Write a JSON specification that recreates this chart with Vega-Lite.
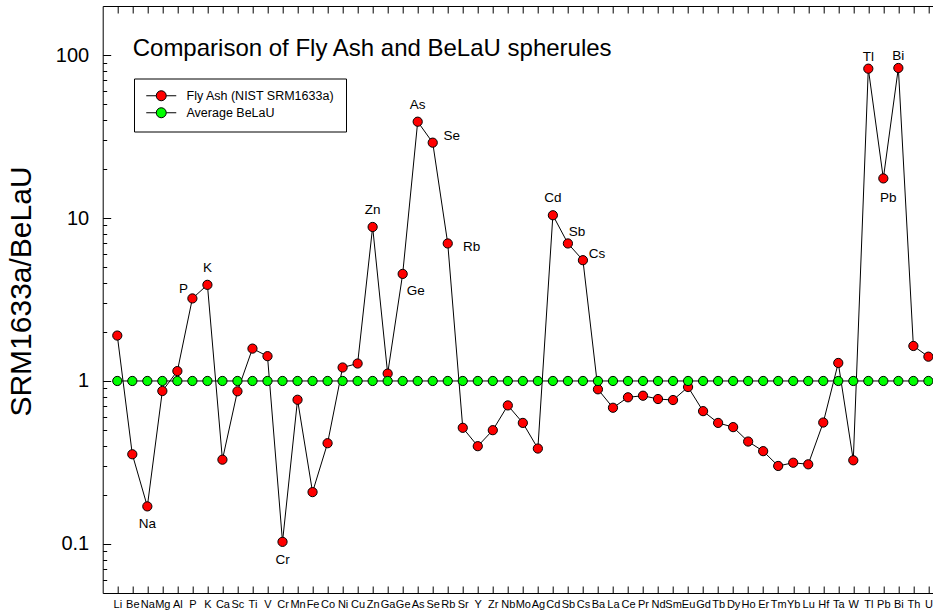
{
  "$schema": "https://vega.github.io/schema/vega-lite/v6.json",
  "autosize": {"type": "none"},
  "padding": {"left": 102.7, "top": 6, "right": 0, "bottom": 20},
  "width": 830.3,
  "height": 587,
  "background": "white",
  "config": {
    "font": "Liberation Sans",
    "view": {"stroke": null},
    "legend": {"title": null},
    "axis": {"grid": false, "tickColor": "black", "tickWidth": 1, "domainColor": "black", "domainWidth": 1, "labelColor": "black"}
  },
  "title": {
    "text": "Comparison of Fly Ash and BeLaU spherules",
    "anchor": "start",
    "frame": "group",
    "orient": "top",
    "offset": 0,
    "dx": 30,
    "dy": 74,
    "fontSize": 24,
    "fontWeight": "normal",
    "font": "Liberation Sans",
    "color": "black",
    "baseline": "alphabetic"
  },
  "resolve": {"axis": {"x": "independent", "y": "independent"}},
  "data": {
    "values": [
      {"el": "Li", "series": "Fly Ash (NIST SRM1633a)", "v": 1.90},
      {"el": "Be", "series": "Fly Ash (NIST SRM1633a)", "v": 0.355},
      {"el": "Na", "series": "Fly Ash (NIST SRM1633a)", "v": 0.170},
      {"el": "Mg", "series": "Fly Ash (NIST SRM1633a)", "v": 0.868},
      {"el": "Al", "series": "Fly Ash (NIST SRM1633a)", "v": 1.15},
      {"el": "P", "series": "Fly Ash (NIST SRM1633a)", "v": 3.21},
      {"el": "K", "series": "Fly Ash (NIST SRM1633a)", "v": 3.89},
      {"el": "Ca", "series": "Fly Ash (NIST SRM1633a)", "v": 0.329},
      {"el": "Sc", "series": "Fly Ash (NIST SRM1633a)", "v": 0.864},
      {"el": "Ti", "series": "Fly Ash (NIST SRM1633a)", "v": 1.58},
      {"el": "V", "series": "Fly Ash (NIST SRM1633a)", "v": 1.42},
      {"el": "Cr", "series": "Fly Ash (NIST SRM1633a)", "v": 0.103},
      {"el": "Mn", "series": "Fly Ash (NIST SRM1633a)", "v": 0.767},
      {"el": "Fe", "series": "Fly Ash (NIST SRM1633a)", "v": 0.208},
      {"el": "Co", "series": "Fly Ash (NIST SRM1633a)", "v": 0.415},
      {"el": "Ni", "series": "Fly Ash (NIST SRM1633a)", "v": 1.21},
      {"el": "Cu", "series": "Fly Ash (NIST SRM1633a)", "v": 1.28},
      {"el": "Zn", "series": "Fly Ash (NIST SRM1633a)", "v": 8.81},
      {"el": "Ga", "series": "Fly Ash (NIST SRM1633a)", "v": 1.11},
      {"el": "Ge", "series": "Fly Ash (NIST SRM1633a)", "v": 4.54},
      {"el": "As", "series": "Fly Ash (NIST SRM1633a)", "v": 39.0},
      {"el": "Se", "series": "Fly Ash (NIST SRM1633a)", "v": 29.0},
      {"el": "Rb", "series": "Fly Ash (NIST SRM1633a)", "v": 6.98},
      {"el": "Sr", "series": "Fly Ash (NIST SRM1633a)", "v": 0.516},
      {"el": "Y", "series": "Fly Ash (NIST SRM1633a)", "v": 0.398},
      {"el": "Zr", "series": "Fly Ash (NIST SRM1633a)", "v": 0.499},
      {"el": "Nb", "series": "Fly Ash (NIST SRM1633a)", "v": 0.708},
      {"el": "Mo", "series": "Fly Ash (NIST SRM1633a)", "v": 0.553},
      {"el": "Ag", "series": "Fly Ash (NIST SRM1633a)", "v": 0.385},
      {"el": "Cd", "series": "Fly Ash (NIST SRM1633a)", "v": 10.4},
      {"el": "Sb", "series": "Fly Ash (NIST SRM1633a)", "v": 6.98},
      {"el": "Cs", "series": "Fly Ash (NIST SRM1633a)", "v": 5.51},
      {"el": "Ba", "series": "Fly Ash (NIST SRM1633a)", "v": 0.889},
      {"el": "La", "series": "Fly Ash (NIST SRM1633a)", "v": 0.685},
      {"el": "Ce", "series": "Fly Ash (NIST SRM1633a)", "v": 0.794},
      {"el": "Pr", "series": "Fly Ash (NIST SRM1633a)", "v": 0.812},
      {"el": "Nd", "series": "Fly Ash (NIST SRM1633a)", "v": 0.775},
      {"el": "Sm", "series": "Fly Ash (NIST SRM1633a)", "v": 0.764},
      {"el": "Eu", "series": "Fly Ash (NIST SRM1633a)", "v": 0.918},
      {"el": "Gd", "series": "Fly Ash (NIST SRM1633a)", "v": 0.653},
      {"el": "Tb", "series": "Fly Ash (NIST SRM1633a)", "v": 0.553},
      {"el": "Dy", "series": "Fly Ash (NIST SRM1633a)", "v": 0.521},
      {"el": "Ho", "series": "Fly Ash (NIST SRM1633a)", "v": 0.425},
      {"el": "Er", "series": "Fly Ash (NIST SRM1633a)", "v": 0.371},
      {"el": "Tm", "series": "Fly Ash (NIST SRM1633a)", "v": 0.301},
      {"el": "Yb", "series": "Fly Ash (NIST SRM1633a)", "v": 0.315},
      {"el": "Lu", "series": "Fly Ash (NIST SRM1633a)", "v": 0.308},
      {"el": "Hf", "series": "Fly Ash (NIST SRM1633a)", "v": 0.556},
      {"el": "Ta", "series": "Fly Ash (NIST SRM1633a)", "v": 1.29},
      {"el": "W", "series": "Fly Ash (NIST SRM1633a)", "v": 0.326},
      {"el": "Tl", "series": "Fly Ash (NIST SRM1633a)", "v": 82.5},
      {"el": "Pb", "series": "Fly Ash (NIST SRM1633a)", "v": 17.5},
      {"el": "Bi", "series": "Fly Ash (NIST SRM1633a)", "v": 83.3},
      {"el": "Th", "series": "Fly Ash (NIST SRM1633a)", "v": 1.64},
      {"el": "U", "series": "Fly Ash (NIST SRM1633a)", "v": 1.41},
      {"el": "Li", "series": "Average BeLaU", "v": 1},
      {"el": "Be", "series": "Average BeLaU", "v": 1},
      {"el": "Na", "series": "Average BeLaU", "v": 1},
      {"el": "Mg", "series": "Average BeLaU", "v": 1},
      {"el": "Al", "series": "Average BeLaU", "v": 1},
      {"el": "P", "series": "Average BeLaU", "v": 1},
      {"el": "K", "series": "Average BeLaU", "v": 1},
      {"el": "Ca", "series": "Average BeLaU", "v": 1},
      {"el": "Sc", "series": "Average BeLaU", "v": 1},
      {"el": "Ti", "series": "Average BeLaU", "v": 1},
      {"el": "V", "series": "Average BeLaU", "v": 1},
      {"el": "Cr", "series": "Average BeLaU", "v": 1},
      {"el": "Mn", "series": "Average BeLaU", "v": 1},
      {"el": "Fe", "series": "Average BeLaU", "v": 1},
      {"el": "Co", "series": "Average BeLaU", "v": 1},
      {"el": "Ni", "series": "Average BeLaU", "v": 1},
      {"el": "Cu", "series": "Average BeLaU", "v": 1},
      {"el": "Zn", "series": "Average BeLaU", "v": 1},
      {"el": "Ga", "series": "Average BeLaU", "v": 1},
      {"el": "Ge", "series": "Average BeLaU", "v": 1},
      {"el": "As", "series": "Average BeLaU", "v": 1},
      {"el": "Se", "series": "Average BeLaU", "v": 1},
      {"el": "Rb", "series": "Average BeLaU", "v": 1},
      {"el": "Sr", "series": "Average BeLaU", "v": 1},
      {"el": "Y", "series": "Average BeLaU", "v": 1},
      {"el": "Zr", "series": "Average BeLaU", "v": 1},
      {"el": "Nb", "series": "Average BeLaU", "v": 1},
      {"el": "Mo", "series": "Average BeLaU", "v": 1},
      {"el": "Ag", "series": "Average BeLaU", "v": 1},
      {"el": "Cd", "series": "Average BeLaU", "v": 1},
      {"el": "Sb", "series": "Average BeLaU", "v": 1},
      {"el": "Cs", "series": "Average BeLaU", "v": 1},
      {"el": "Ba", "series": "Average BeLaU", "v": 1},
      {"el": "La", "series": "Average BeLaU", "v": 1},
      {"el": "Ce", "series": "Average BeLaU", "v": 1},
      {"el": "Pr", "series": "Average BeLaU", "v": 1},
      {"el": "Nd", "series": "Average BeLaU", "v": 1},
      {"el": "Sm", "series": "Average BeLaU", "v": 1},
      {"el": "Eu", "series": "Average BeLaU", "v": 1},
      {"el": "Gd", "series": "Average BeLaU", "v": 1},
      {"el": "Tb", "series": "Average BeLaU", "v": 1},
      {"el": "Dy", "series": "Average BeLaU", "v": 1},
      {"el": "Ho", "series": "Average BeLaU", "v": 1},
      {"el": "Er", "series": "Average BeLaU", "v": 1},
      {"el": "Tm", "series": "Average BeLaU", "v": 1},
      {"el": "Yb", "series": "Average BeLaU", "v": 1},
      {"el": "Lu", "series": "Average BeLaU", "v": 1},
      {"el": "Hf", "series": "Average BeLaU", "v": 1},
      {"el": "Ta", "series": "Average BeLaU", "v": 1},
      {"el": "W", "series": "Average BeLaU", "v": 1},
      {"el": "Tl", "series": "Average BeLaU", "v": 1},
      {"el": "Pb", "series": "Average BeLaU", "v": 1},
      {"el": "Bi", "series": "Average BeLaU", "v": 1},
      {"el": "Th", "series": "Average BeLaU", "v": 1},
      {"el": "U", "series": "Average BeLaU", "v": 1}
    ]
  },
  "encoding": {
    "x": {
      "field": "el",
      "type": "nominal",
      "sort": ["Li","Be","Na","Mg","Al","P","K","Ca","Sc","Ti","V","Cr","Mn","Fe","Co","Ni","Cu","Zn","Ga","Ge","As","Se","Rb","Sr","Y","Zr","Nb","Mo","Ag","Cd","Sb","Cs","Ba","La","Ce","Pr","Nd","Sm","Eu","Gd","Tb","Dy","Ho","Er","Tm","Yb","Lu","Hf","Ta","W","Tl","Pb","Bi","Th","U"],
      "scale": {"type": "point", "padding": 0.639, "align": 0.76},
      "axis": null
    },
    "y": {
      "field": "v",
      "type": "quantitative",
      "scale": {"type": "log", "domain": [0.05, 200], "nice": false},
      "axis": null
    }
  },
  "layer": [
    {
      "mark": {"type": "line", "color": "black", "strokeWidth": 1},
      "encoding": {
        "detail": {"field": "series"},
        "x": {
          "field": "el",
          "type": "nominal",
          "sort": ["Li","Be","Na","Mg","Al","P","K","Ca","Sc","Ti","V","Cr","Mn","Fe","Co","Ni","Cu","Zn","Ga","Ge","As","Se","Rb","Sr","Y","Zr","Nb","Mo","Ag","Cd","Sb","Cs","Ba","La","Ce","Pr","Nd","Sm","Eu","Gd","Tb","Dy","Ho","Er","Tm","Yb","Lu","Hf","Ta","W","Tl","Pb","Bi","Th","U"],
          "scale": {"type": "point", "padding": 0.639, "align": 0.76},
          "axis": {
            "title": null,
            "orient": "bottom",
            "domain": true,
            "ticks": false,
            "labelAngle": 0,
            "labelFontSize": 11,
            "labelPadding": 5,
            "labelOverlap": false,
            "labelBound": false
          }
        },
        "y": {
          "field": "v",
          "type": "quantitative",
          "scale": {"type": "log", "domain": [0.05, 200], "nice": false},
          "axis": {
            "orient": "left",
            "title": "SRM1633a/BeLaU",
            "titleFontSize": 30,
            "titleFontWeight": "normal",
            "titleColor": "black",
            "titlePadding": 19,
            "titleY": 285,
            "values": [0.1, 1, 10, 100],
            "labelExpr": "toString(datum.value)",
            "labelFontSize": 20,
            "labelPadding": 14,
            "labelOverlap": false,
            "labelBound": false,
            "labelFlush": false,
            "ticks": false,
            "domain": true
          }
        }
      }
    },
    {
      "mark": {"type": "point", "filled": true, "size": 85, "stroke": "black", "strokeWidth": 1, "opacity": 1},
      "encoding": {
        "x": {
          "field": "el",
          "type": "nominal",
          "sort": ["Li","Be","Na","Mg","Al","P","K","Ca","Sc","Ti","V","Cr","Mn","Fe","Co","Ni","Cu","Zn","Ga","Ge","As","Se","Rb","Sr","Y","Zr","Nb","Mo","Ag","Cd","Sb","Cs","Ba","La","Ce","Pr","Nd","Sm","Eu","Gd","Tb","Dy","Ho","Er","Tm","Yb","Lu","Hf","Ta","W","Tl","Pb","Bi","Th","U"],
          "scale": {"type": "point", "padding": 0.639, "align": 0.76},
          "axis": {
            "title": null,
            "orient": "top",
            "domain": true,
            "ticks": true,
            "tickSize": -7,
            "labels": false
          }
        },
        "y": {
          "field": "v",
          "type": "quantitative",
          "scale": {"type": "log", "domain": [0.05, 200], "nice": false},
          "axis": {
            "orient": "left",
            "title": null,
            "values": [0.1, 1, 10, 100],
            "labels": false,
            "domain": false,
            "ticks": true,
            "tickSize": -8
          }
        },
        "fill": {
          "field": "series",
          "type": "nominal",
          "sort": null,
          "scale": {"domain": ["Fly Ash (NIST SRM1633a)", "Average BeLaU"], "range": ["#ff0000", "#00ff00"]},
          "legend": {
            "orient": "none",
            "legendX": 31.3,
            "legendY": 72.5,
            "direction": "vertical",
            "strokeColor": "black",
            "fillColor": "white",
            "padding": 11,
            "symbolType": "M-1,0H1M3,0H5M1,0A1,1,0,1,1,3,0A1,1,0,1,1,1,0Z",
            "symbolSize": 100,
            "symbolStrokeColor": "black",
            "symbolStrokeWidth": 1,
            "rowPadding": 2,
            "labelOffset": 29,
            "labelFontSize": 12.5,
            "labelColor": "black",
            "labelLimit": 400
          }
        }
      }
    },
    {
      "transform": [{"filter": "datum.series == 'Fly Ash (NIST SRM1633a)'"}, {"filter": {"field": "el", "oneOf": ["K", "Zn", "As", "Cd"]}}],
      "mark": {"type": "text", "fontSize": 13.5, "color": "black", "baseline": "middle", "align": "center", "dy": -17},
      "encoding": {
        "text": {"field": "el"},
        "x": {
          "field": "el",
          "type": "nominal",
          "sort": ["Li","Be","Na","Mg","Al","P","K","Ca","Sc","Ti","V","Cr","Mn","Fe","Co","Ni","Cu","Zn","Ga","Ge","As","Se","Rb","Sr","Y","Zr","Nb","Mo","Ag","Cd","Sb","Cs","Ba","La","Ce","Pr","Nd","Sm","Eu","Gd","Tb","Dy","Ho","Er","Tm","Yb","Lu","Hf","Ta","W","Tl","Pb","Bi","Th","U"],
          "scale": {"type": "point", "padding": 0.639, "align": 0.76},
          "axis": {
            "title": null,
            "orient": "bottom",
            "domain": false,
            "ticks": true,
            "tickSize": -7,
            "labels": false
          }
        },
        "y": {
          "field": "v",
          "type": "quantitative",
          "scale": {"type": "log", "domain": [0.05, 200], "nice": false},
          "axis": {
            "orient": "left",
            "title": null,
            "values": [0.06,0.07,0.08,0.09,0.2,0.3,0.4,0.5,0.6,0.7,0.8,0.9,2,3,4,5,6,7,8,9,20,30,40,50,60,70,80,90],
            "labels": false,
            "domain": false,
            "ticks": true,
            "tickSize": -4
          }
        }
      }
    },
    {
      "transform": [{"filter": "datum.series == 'Fly Ash (NIST SRM1633a)'"}, {"filter": {"field": "el", "oneOf": ["Tl", "Bi"]}}],
      "mark": {"type": "text", "fontSize": 13.5, "color": "black", "baseline": "middle", "align": "center", "dy": -12},
      "encoding": {"text": {"field": "el"}}
    },
    {
      "transform": [{"filter": "datum.series == 'Fly Ash (NIST SRM1633a)'"}, {"filter": {"field": "el", "oneOf": ["Na", "Cr"]}}],
      "mark": {"type": "text", "fontSize": 13.5, "color": "black", "baseline": "middle", "align": "center", "dy": 18},
      "encoding": {"text": {"field": "el"}}
    },
    {
      "transform": [{"filter": "datum.series == 'Fly Ash (NIST SRM1633a)'"}, {"filter": {"field": "el", "oneOf": ["Pb"]}}],
      "mark": {"type": "text", "fontSize": 13.5, "color": "black", "baseline": "middle", "align": "center", "dx": 5, "dy": 20},
      "encoding": {"text": {"field": "el"}}
    },
    {
      "transform": [{"filter": "datum.series == 'Fly Ash (NIST SRM1633a)'"}, {"filter": {"field": "el", "oneOf": ["P"]}}],
      "mark": {"type": "text", "fontSize": 13.5, "color": "black", "baseline": "middle", "align": "center", "dx": -9, "dy": -9},
      "encoding": {"text": {"field": "el"}}
    },
    {
      "transform": [{"filter": "datum.series == 'Fly Ash (NIST SRM1633a)'"}, {"filter": {"field": "el", "oneOf": ["Ge"]}}],
      "mark": {"type": "text", "fontSize": 13.5, "color": "black", "baseline": "middle", "align": "center", "dx": 13, "dy": 17},
      "encoding": {"text": {"field": "el"}}
    },
    {
      "transform": [{"filter": "datum.series == 'Fly Ash (NIST SRM1633a)'"}, {"filter": {"field": "el", "oneOf": ["Se"]}}],
      "mark": {"type": "text", "fontSize": 13.5, "color": "black", "baseline": "middle", "align": "center", "dx": 19, "dy": -7},
      "encoding": {"text": {"field": "el"}}
    },
    {
      "transform": [{"filter": "datum.series == 'Fly Ash (NIST SRM1633a)'"}, {"filter": {"field": "el", "oneOf": ["Rb"]}}],
      "mark": {"type": "text", "fontSize": 13.5, "color": "black", "baseline": "middle", "align": "center", "dx": 24, "dy": 4},
      "encoding": {"text": {"field": "el"}}
    },
    {
      "transform": [{"filter": "datum.series == 'Fly Ash (NIST SRM1633a)'"}, {"filter": {"field": "el", "oneOf": ["Sb"]}}],
      "mark": {"type": "text", "fontSize": 13.5, "color": "black", "baseline": "middle", "align": "center", "dx": 9, "dy": -11},
      "encoding": {"text": {"field": "el"}}
    },
    {
      "transform": [{"filter": "datum.series == 'Fly Ash (NIST SRM1633a)'"}, {"filter": {"field": "el", "oneOf": ["Cs"]}}],
      "mark": {"type": "text", "fontSize": 13.5, "color": "black", "baseline": "middle", "align": "center", "dx": 14, "dy": -6},
      "encoding": {"text": {"field": "el"}}
    }
  ]
}
